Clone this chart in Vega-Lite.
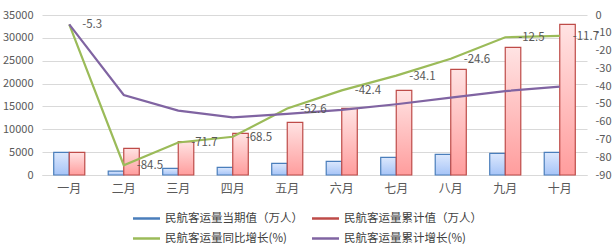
{
  "$schema": "https://vega.github.io/schema/vega-lite/v6.json",
  "width": 545,
  "height": 160,
  "autosize": {"type": "none"},
  "padding": {"left": 42, "top": 15, "right": 28, "bottom": 74},
  "background": "white",
  "config": {
    "view": {"stroke": null},
    "font": "Noto Sans CJK SC",
    "axis": {"labelFont": "Noto Sans CJK SC", "labelColor": "#595959", "title": null, "labelOverlap": false}
  },
  "data": {
    "values": [
      {"month": "一月", "series": "民航客运量当期值（万人）", "value": 4970},
      {"month": "二月", "series": "民航客运量当期值（万人）", "value": 830},
      {"month": "三月", "series": "民航客运量当期值（万人）", "value": 1460},
      {"month": "四月", "series": "民航客运量当期值（万人）", "value": 1680},
      {"month": "五月", "series": "民航客运量当期值（万人）", "value": 2550},
      {"month": "六月", "series": "民航客运量当期值（万人）", "value": 3000},
      {"month": "七月", "series": "民航客运量当期值（万人）", "value": 3870},
      {"month": "八月", "series": "民航客运量当期值（万人）", "value": 4520},
      {"month": "九月", "series": "民航客运量当期值（万人）", "value": 4740},
      {"month": "十月", "series": "民航客运量当期值（万人）", "value": 4960},
      {"month": "一月", "series": "民航客运量累计值（万人）", "value": 4970},
      {"month": "二月", "series": "民航客运量累计值（万人）", "value": 5840},
      {"month": "三月", "series": "民航客运量累计值（万人）", "value": 7290},
      {"month": "四月", "series": "民航客运量累计值（万人）", "value": 9100},
      {"month": "五月", "series": "民航客运量累计值（万人）", "value": 11520},
      {"month": "六月", "series": "民航客运量累计值（万人）", "value": 14580},
      {"month": "七月", "series": "民航客运量累计值（万人）", "value": 18500},
      {"month": "八月", "series": "民航客运量累计值（万人）", "value": 23100},
      {"month": "九月", "series": "民航客运量累计值（万人）", "value": 27900},
      {"month": "十月", "series": "民航客运量累计值（万人）", "value": 32950},
      {"month": "一月", "series": "民航客运量同比增长(%)", "value": -5.3},
      {"month": "二月", "series": "民航客运量同比增长(%)", "value": -84.5},
      {"month": "三月", "series": "民航客运量同比增长(%)", "value": -71.7},
      {"month": "四月", "series": "民航客运量同比增长(%)", "value": -68.5},
      {"month": "五月", "series": "民航客运量同比增长(%)", "value": -52.6},
      {"month": "六月", "series": "民航客运量同比增长(%)", "value": -42.4},
      {"month": "七月", "series": "民航客运量同比增长(%)", "value": -34.1},
      {"month": "八月", "series": "民航客运量同比增长(%)", "value": -24.6},
      {"month": "九月", "series": "民航客运量同比增长(%)", "value": -12.5},
      {"month": "十月", "series": "民航客运量同比增长(%)", "value": -11.7},
      {"month": "一月", "series": "民航客运量累计增长(%)", "value": -5.3},
      {"month": "二月", "series": "民航客运量累计增长(%)", "value": -45.0},
      {"month": "三月", "series": "民航客运量累计增长(%)", "value": -53.8},
      {"month": "四月", "series": "民航客运量累计增长(%)", "value": -57.6},
      {"month": "五月", "series": "民航客运量累计增长(%)", "value": -55.6},
      {"month": "六月", "series": "民航客运量累计增长(%)", "value": -53.4},
      {"month": "七月", "series": "民航客运量累计增长(%)", "value": -50.2},
      {"month": "八月", "series": "民航客运量累计增长(%)", "value": -46.5},
      {"month": "九月", "series": "民航客运量累计增长(%)", "value": -42.8},
      {"month": "十月", "series": "民航客运量累计增长(%)", "value": -40.3}
    ]
  },
  "layer": [
    {
      "layer": [
        {
          "transform": [{"filter": "datum.series === '民航客运量当期值（万人）'"}],
          "mark": {
            "type": "bar",
            "fill": {"gradient": "linear", "x1": 0, "y1": 0, "x2": 0, "y2": 1, "stops": [{"offset": 0, "color": "#dce8fd"}, {"offset": 1, "color": "#a6c4f7"}]},
            "stroke": "#4a7ebb",
            "strokeWidth": 1.2
          },
          "encoding": {
            "x": {
              "field": "month",
              "type": "nominal",
              "sort": ["一月", "二月", "三月", "四月", "五月", "六月", "七月", "八月", "九月", "十月"],
              "scale": {"paddingInner": 0.43, "paddingOuter": 0.215},
              "axis": {"labelAngle": 0, "labelFontSize": 12, "labelPadding": 8, "ticks": false, "domain": true, "domainColor": "#d9d9d9", "grid": false}
            },
            "xOffset": {
              "field": "series",
              "type": "nominal",
              "scale": {"domain": ["民航客运量当期值（万人）", "民航客运量累计值（万人）"], "paddingInner": 0, "paddingOuter": 0}
            },
            "y": {
              "field": "value",
              "type": "quantitative",
              "scale": {"domain": [0, 35000], "nice": false},
              "axis": {"orient": "left", "values": [0, 5000, 10000, 15000, 20000, 25000, 30000, 35000], "tickCount": 20, "labelExpr": "'' + datum.value", "labelOverlap": false, "labelFontSize": 11, "labelPadding": 9, "domain": false, "ticks": false, "grid": true, "gridColor": "#d9d9d9"}
            }
          }
        },
        {
          "transform": [{"filter": "datum.series === '民航客运量累计值（万人）'"}],
          "mark": {
            "type": "bar",
            "fill": {"gradient": "linear", "x1": 0, "y1": 0, "x2": 0, "y2": 1, "stops": [{"offset": 0, "color": "#ffe3e3"}, {"offset": 1, "color": "#ff9d9d"}]},
            "stroke": "#be4b48",
            "strokeWidth": 1.2
          },
          "encoding": {
            "x": {
              "field": "month",
              "type": "nominal",
              "sort": ["一月", "二月", "三月", "四月", "五月", "六月", "七月", "八月", "九月", "十月"]
            },
            "xOffset": {"field": "series", "type": "nominal"},
            "y": {"field": "value", "type": "quantitative"}
          }
        }
      ]
    },
    {
      "layer": [
        {
          "transform": [{"filter": "indexof(datum.series, '增长') >= 0"}],
          "mark": {"type": "line", "strokeWidth": 2.2},
          "encoding": {
            "x": {
              "field": "month",
              "type": "nominal",
              "sort": ["一月", "二月", "三月", "四月", "五月", "六月", "七月", "八月", "九月", "十月"]
            },
            "y": {
              "field": "value",
              "type": "quantitative",
              "scale": {"domain": [-90, 0], "nice": false},
              "axis": {"orient": "right", "values": [-90, -80, -70, -60, -50, -40, -30, -20, -10, 0], "tickCount": 20, "labelExpr": "'' + datum.value", "labelOverlap": false, "labelFontSize": 11, "labelPadding": 8, "domain": false, "ticks": false, "grid": false}
            },
            "color": {
              "field": "series",
              "type": "nominal",
              "scale": {
                "domain": ["民航客运量当期值（万人）", "民航客运量累计值（万人）", "民航客运量同比增长(%)", "民航客运量累计增长(%)"],
                "range": ["#4a7ebb", "#be4b48", "#9bbb59", "#8064a2"]
              },
              "legend": {
                "orient": "none",
                "legendX": 98,
                "legendY": 197,
                "direction": "horizontal",
                "columns": 2,
                "title": null,
                "labelFontSize": 11.5,
                "labelColor": "#404040",
                "labelLimit": 300,
                "symbolType": "M-2.7,0H2.7",
                "symbolSize": 100,
                "symbolStrokeWidth": 2.5,
                "labelOffset": 12,
                "columnPadding": 4,
                "rowPadding": 8
              }
            }
          }
        },
        {
          "transform": [{"filter": "datum.series === '民航客运量同比增长(%)'"}],
          "mark": {"type": "text", "align": "left", "baseline": "middle", "dx": 13, "dy": 1, "fontSize": 11.5, "color": "#595959"},
          "encoding": {
            "x": {
              "field": "month",
              "type": "nominal",
              "sort": ["一月", "二月", "三月", "四月", "五月", "六月", "七月", "八月", "九月", "十月"]
            },
            "y": {"field": "value", "type": "quantitative"},
            "text": {"field": "value", "type": "nominal"}
          }
        }
      ]
    }
  ],
  "resolve": {"scale": {"y": "independent"}}
}
